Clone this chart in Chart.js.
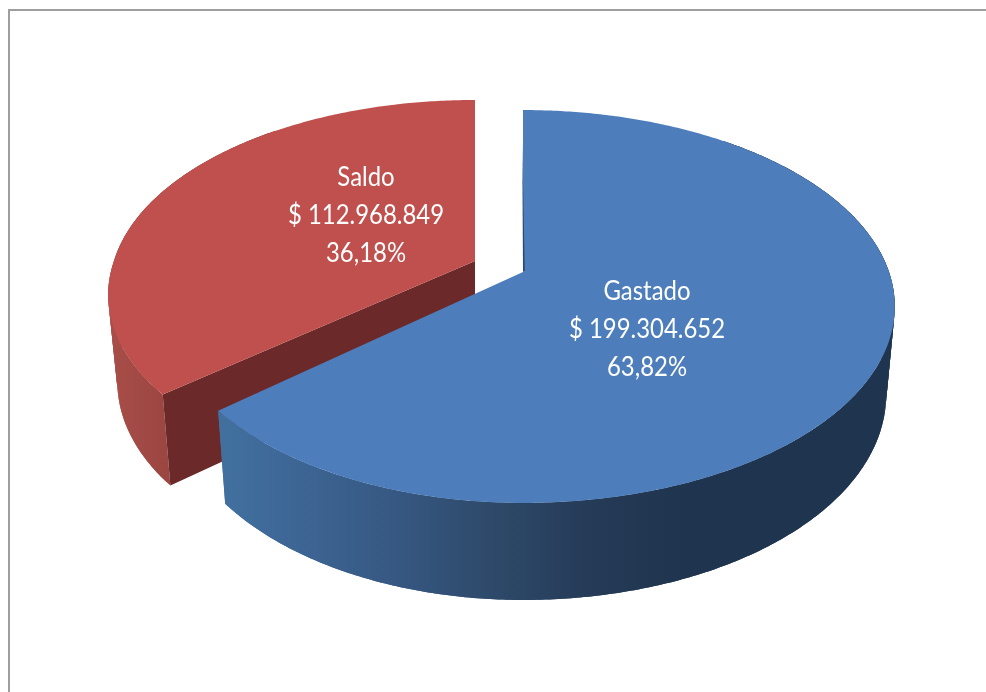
<!DOCTYPE html>
<html><head><meta charset="utf-8">
<style>html,body{margin:0;padding:0;background:#fff;overflow:hidden}canvas{display:block}</style>
<script src="https://cdn.jsdelivr.net/npm/chart.js@4"></script>
</head><body><canvas id="c" width="986" height="692"></canvas>
<script>
const categories = ['Gastado', 'Saldo'];
const values = [199304652, 112968849];
const amountLabels = ['$ 199.304.652', '$ 112.968.849'];
const percentLabels = ['63,82%', '36,18%'];
const topColors = ['#4d7ebb', '#c0504d'];

const views = [
  {x:523,y:272,aL:354,aR:366,sx:0,b:190.4,k:.1756,d0:85.7,d1:11.3,shrink:.977,cut:null,edge:true,
   wall:[[222,'#41709f'],[300,'#3d6594'],[400,'#365781'],[500,'#2d4868'],[600,'#243a56'],[690,'#1f344e'],[895,'#1f344e']],
   label:[647,292]},
  {x:475,y:261,aL:361,aR:361,sx:-8.4,b:186,k:.155,d0:84,d1:11,shrink:.975,cut:'#6b2a29',edge:false,
   wall:[[109,'#a94e49'],[172,'#9a4541']],
   label:[366,178]}
];

function project(view, angle, lower){
  const u=Math.cos(angle), v=Math.sin(angle), w=1-view.k*v;
  const a=(u>0?view.aR:view.aL)*(lower?view.shrink:1);
  return {x:view.x+(a*u+view.sx*Math.max(v,0))/w, y:view.y+view.b*v/w+(lower?view.d0+view.d1*v:0)};
}
function arcPath(ctx,view,s,e,lower){
  const n=Math.ceil(Math.abs(e-s)/0.01);
  for(let i=0;i<=n;i++){
    const p=project(view,s+(e-s)*i/n,lower);
    ctx.lineTo(p.x,p.y);
  }
}
function drawSlice(ctx,el,view,color){
  const s=el.startAngle,e=el.endAngle;
  const x0=view.wall[0][0],x1=view.wall[view.wall.length-1][0];
  const g=ctx.createLinearGradient(x0,0,x1,0);
  view.wall.forEach(st=>g.addColorStop((st[0]-x0)/(x1-x0),st[1]));
  // outer wall: the back part stays hidden under the top face.
  // Each quad overlaps the next so no seams show between them.
  const ws=Math.max(s,-0.9), we=Math.min(e,Math.PI+0.9);
  const step=(we-ws)/Math.ceil((we-ws)/0.02);
  ctx.fillStyle=g;
  for(let a=ws;a<we-step/2;a+=step){
    const b=Math.min(a+2*step,we);
    ctx.beginPath();
    arcPath(ctx,view,a,b,false);arcPath(ctx,view,b,a,true);
    ctx.closePath();ctx.fill();
  }
  if(view.cut){
    const tp=project(view,s),bt=project(view,s,true);
    ctx.fillStyle=view.cut;ctx.beginPath();
    ctx.moveTo(view.x,view.y);ctx.lineTo(tp.x,tp.y);ctx.lineTo(bt.x,bt.y);ctx.lineTo(view.x,view.y+view.d0);ctx.closePath();ctx.fill();
  }
  ctx.fillStyle=color;ctx.beginPath();ctx.moveTo(view.x,view.y);
  arcPath(ctx,view,s,e,false);ctx.closePath();ctx.fill();
  if(view.edge){
    ctx.fillStyle='#2c4a70';ctx.beginPath();
    ctx.moveTo(view.x-.8,view.y-130);ctx.lineTo(view.x,view.y-1);ctx.lineTo(view.x+1.8,view.y-1);ctx.closePath();ctx.fill();
  }
}
const pie3d={
  id:'pie3d',
  beforeDatasetsDraw(chart){
    const ctx=chart.ctx,arcs=chart.getDatasetMeta(0).data;
    ctx.save();
    ctx.strokeStyle='#9e9e9e';ctx.lineWidth=2;
    ctx.strokeRect(9,10,1100,900);
    [1,0].forEach(i=>drawSlice(ctx,arcs[i],views[i],topColors[i]));
    ctx.fillStyle='#fff';ctx.textAlign='center';ctx.textBaseline='middle';ctx.font='26px Lato';
    categories.forEach((c,i)=>{
      const [x,y]=views[i].label;
      [c,amountLabels[i],percentLabels[i]].forEach((t,j)=>{
        ctx.save();ctx.translate(x,y+38*j);ctx.scale(.92,1);ctx.fillText(t,0,0);ctx.restore();
      });
    });
    ctx.restore();
    return false;
  }
};
new Chart(document.getElementById('c'),{
  type:'pie',
  data:{labels:categories,datasets:[{data:values,backgroundColor:topColors,borderWidth:0}]},
  options:{responsive:false,animation:false,plugins:{legend:{display:false},tooltip:{enabled:false}}},
  plugins:[pie3d]
});
</script></body></html>
